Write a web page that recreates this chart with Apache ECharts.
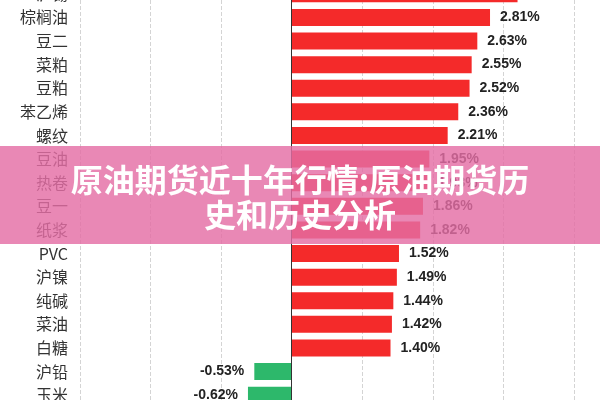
<!DOCTYPE html>
<html>
<head>
<meta charset="utf-8">
<script src="https://cdn.jsdelivr.net/npm/echarts@6/dist/echarts.min.js"></script>
<style>html,body{margin:0;padding:0;background:#fff}#chart1{width:600px;height:400px}</style>
</head>
<body>
<div id="chart1"></div>
<script>
var categories = ['沪锡', '棕榈油', '豆二', '菜粕', '豆粕', '苯乙烯', '螺纹', '豆油', '热卷', '豆一', '纸浆', 'PVC', '沪镍', '纯碱', '菜油', '白糖', '沪铅', '玉米'];
var values = [3.2, 2.81, 2.63, 2.55, 2.52, 2.36, 2.21, 1.95, 1.93, 1.86, 1.82, 1.52, 1.49, 1.44, 1.42, 1.40, -0.53, -0.62];
var xTicks = [-3, 4, 1];

function chart() {
  var c = echarts.init(document.getElementById('chart1'));
  var data = values.map(function (v) {
    return {
      value: v,
      itemStyle: { color: v >= 0 ? '#f42a2a' : '#2db86b' },
      label: { position: v >= 0 ? 'right' : 'left' }
    };
  });
  var option = {
    animation: false,
    grid: { left: 80, right: 26, top: -18, bottom: -7, outerBoundsMode: 'none' },
    xAxis: {
      type: 'value', min: xTicks[0], max: xTicks[1], interval: xTicks[2],
      axisLabel: { show: false }, axisLine: { show: false }, axisTick: { show: false },
      splitLine: { lineStyle: { type: 'dashed', color: '#d4d4d4' } }
    },
    yAxis: {
      type: 'category', data: categories, inverse: true,
      axisLine: { show: false }, axisTick: { show: false },
      axisLabel: { margin: 12, fontSize: 16, color: '#333', fontFamily: 'Noto Sans CJK SC' }
    },
    series: [{
      type: 'bar', data: data, barWidth: 17,
      label: {
        show: true, distance: 10, fontSize: 14, fontWeight: 'bold', color: '#222',
        fontFamily: 'Liberation Sans',
        formatter: function (p) { return p.value.toFixed(2) + '%'; }
      },
      markLine: {
        symbol: 'none', silent: true, label: { show: false },
        lineStyle: { color: '#333', type: 'solid', width: 1 },
        data: [{ xAxis: 0 }]
      }
    }],
    graphic: [{
      type: 'rect', left: 0, top: 146, z: 100,
      shape: { width: 600, height: 98 },
      style: { fill: 'rgba(228,110,165,0.82)' }
    }, {
      type: 'text', left: 'center', top: 164, z: 101,
      style: {
        text: '原油期货近十年行情:原油期货历',
        fill: '#fff', font: 'bold 32px "Noto Sans CJK SC"',
        shadowColor: 'rgba(0,0,0,0.3)', shadowBlur: 3
      }
    }, {
      type: 'text', left: 'center', top: 199, z: 101,
      style: {
        text: '史和历史分析',
        fill: '#fff', font: 'bold 32px "Noto Sans CJK SC"',
        shadowColor: 'rgba(0,0,0,0.3)', shadowBlur: 3
      }
    }]
  };
  c.setOption(option);
}
chart();
</script>
</body>
</html>
